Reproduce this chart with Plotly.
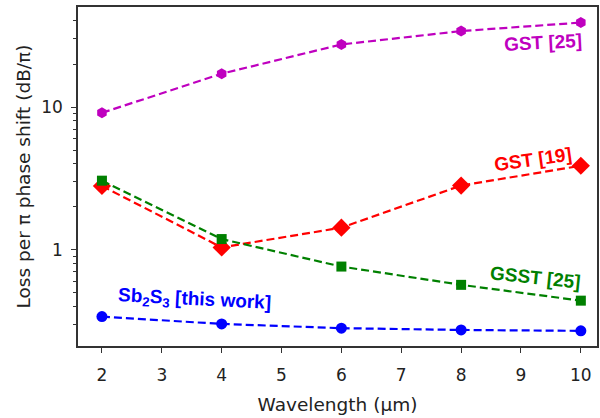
import plotly.graph_objects as go

wavelength = [2, 4, 6, 8, 10]
gst25 = [9.1, 17.1, 27.4, 34.0, 39.0]
gst19 = [2.8, 1.04, 1.43, 2.82, 3.88]
gsst25 = [3.05, 1.19, 0.764, 0.569, 0.441]
sb2s3 = [0.341, 0.303, 0.283, 0.275, 0.271]

x_ticks = [2, 3, 4, 5, 6, 7, 8, 9, 10]
y_ticks = [1, 10]
y_tick_text = ["1", "10"]
y_minor = [0.3, 0.4, 0.5, 0.6, 0.7, 0.8, 0.9, 2, 3, 4, 5, 6, 7, 8, 9, 20, 30, 40]

fig = go.Figure()

series = [
    (gst25, "#bf00bf", "hexagon", 11, "GST [25]"),
    (gst19, "#ff0000", "diamond", 14, "GST [19]"),
    (gsst25, "#008000", "square", 10, "GSST [25]"),
    (sb2s3, "#0000ff", "circle", 11, "Sb2S3"),
]
for ys, col, sym, sz, nm in series:
    fig.add_trace(go.Scatter(
        x=wavelength, y=ys, mode="lines+markers", name=nm,
        line=dict(color=col, width=2.2, dash="8px,4px"),
        marker=dict(color=col, symbol=sym, size=sz, line=dict(width=0)),
        showlegend=False,
    ))

lab_font = "Liberation Sans, Arial, sans-serif"
annos = [
    ("<b>GST [25]</b>", 9.37, 1.454, "#bf00bf", -3),
    ("<b>GST [19]</b>", 9.2, 0.63, "#ff0000", -8),
    ("<b>GSST [25]</b>", 9.24, -0.196, "#008000", 6),
    ("<b>Sb<sub>2</sub>S<sub>3</sub> [this work]</b>", 3.55, -0.35, "#0000ff", 3),
]
for txt, ax_, ay_, col, ang in annos:
    fig.add_annotation(x=ax_, y=ay_, xref="x", yref="y", text=txt, showarrow=False,
                       font=dict(family=lab_font, size=19, color=col), textangle=ang)

axis_font = dict(family="DejaVu Sans, sans-serif", size=17, color="#222")
title_font = dict(family="DejaVu Sans, sans-serif", size=18.5, color="#222")
fig.update_xaxes(
    range=[1.6, 10.27], tickvals=x_ticks, ticks="outside", ticklen=5, tickwidth=1.2,
    tickcolor="#333", showline=True, linecolor="#333", linewidth=1.5, mirror=True,
    showgrid=False, zeroline=False, tickfont=axis_font, ticklabelstandoff=8,
    title=dict(text="Wavelength (μm)", font=title_font, standoff=14),
)
fig.update_yaxes(
    type="log", range=[-0.673, 1.70], tickvals=y_ticks, ticktext=y_tick_text,
    ticks="outside", ticklen=5, tickwidth=1.2, tickcolor="#333",
    minor=dict(tickvals=y_minor, ticks="outside", ticklen=3, tickcolor="#333", showgrid=False),
    showline=True, linecolor="#333", linewidth=1.5, mirror=True,
    showgrid=False, zeroline=False, tickfont=axis_font, ticklabelstandoff=5,
    title=dict(text="Loss per π phase shift (dB/π)", font=title_font, standoff=6),
)
fig.update_layout(
    width=600, height=418, margin=dict(l=78, r=1, t=7, b=72),
    paper_bgcolor="white", plot_bgcolor="white",
)
fig.write_html("out.html", config={"displayModeBar": False},
               post_script="document.body.style.margin='0';")
